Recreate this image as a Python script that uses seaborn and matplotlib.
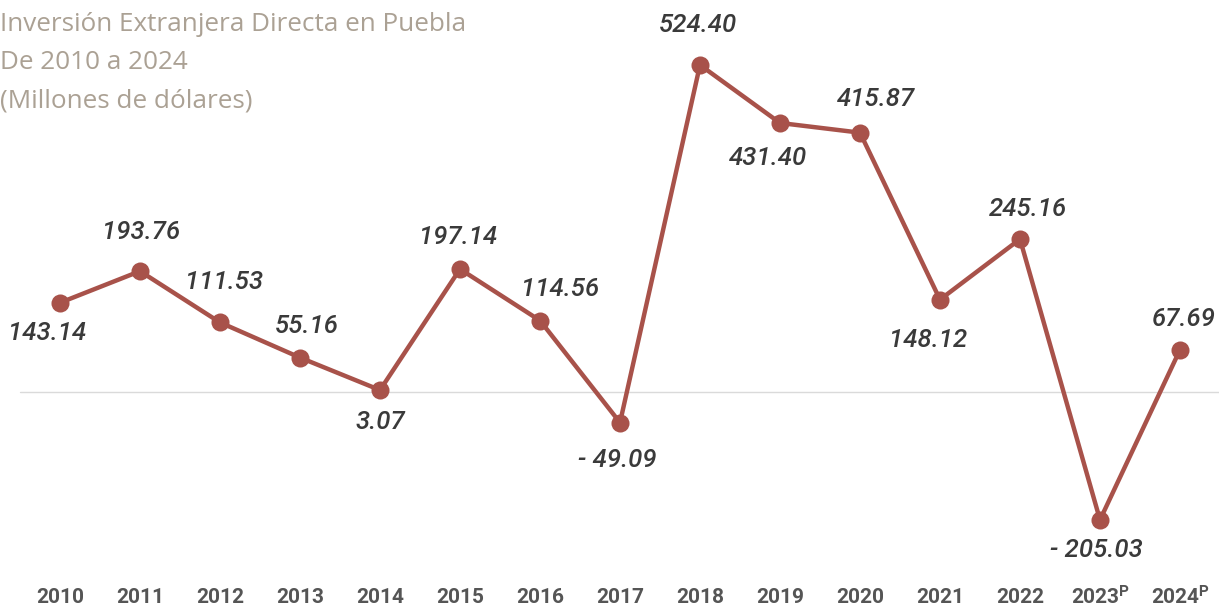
import numpy as np
import pandas as pd
import seaborn as sns
import matplotlib.pyplot as plt

years = [2010, 2011, 2012, 2013, 2014, 2015, 2016, 2017, 2018, 2019, 2020, 2021, 2022, 2023, 2024]
year_labels = ["2010", "2011", "2012", "2013", "2014", "2015", "2016", "2017",
               "2018", "2019", "2020", "2021", "2022", "2023ᴾ", "2024ᴾ"]
ied = [143.14, 193.76, 111.53, 55.16, 3.07, 197.14, 114.56, -49.09,
       524.40, 431.40, 415.87, 148.12, 245.16, -205.03, 67.69]
value_labels = ["143.14", "193.76", "111.53", "55.16", "3.07", "197.14", "114.56", "- 49.09",
                "524.40", "431.40", "415.87", "148.12", "245.16", "- 205.03", "67.69"]

# label offsets in pixels (dx, dy)
offsets = [(-13, -30), (1, 39), (4, 40), (7, 32), (0, -32), (-2, 32), (20, 32), (-3, -37),
           (-2, 40), (-12, -35), (16, 34), (-12, -40), (8, 30), (-4, -30), (4, 31)]

df = pd.DataFrame({"anio": years, "ied": ied})

sns.set_style("white")
plt.rcParams['font.family'] = ['Roboto', 'DejaVu Sans']

line_color = "#A8524A"
title_color = "#ABA194"

fig = plt.figure(figsize=(12.19, 6.08), dpi=100)
ax = fig.add_axes([0, 23 / 608, 1, 585 / 608])

ax.axhline(0, xmin=20 / 1219, xmax=1, color="#DADADA", lw=1, zorder=0)
sns.lineplot(data=df, x="anio", y="ied", ax=ax, color=line_color, lw=3.2,
             marker="o", markersize=13, markeredgewidth=0, zorder=3)

for x, y, lab, (dx, dy) in zip(years, ied, value_labels, offsets):
    ax.annotate(lab, (x, y), xytext=(dx, dy), textcoords="offset pixels",
                ha="center", va="center", fontsize=18.5, style="italic", fontweight=500,
                color="#3A3A3A", family=['Roboto', 'DejaVu Sans'])

ax.set_xlim(2009.25, 2024.4875)
ax.set_ylim(-309.5, 628.6)
ax.set_xticks(years)
ax.set_xticklabels(year_labels, fontsize=15, fontweight="bold", color="#555555",
                   family=['Roboto', 'DejaVu Sans'])
ax.tick_params(axis="x", length=0, pad=2)
ax.set_yticks([])
ax.set_xlabel("")
ax.set_ylabel("")
sns.despine(ax=ax, left=True, bottom=True)

title_lines = ["Inversión Extranjera Directa en Puebla", "De 2010 a 2024", "(Millones de dólares)"]
for i, t in enumerate(title_lines):
    fig.text(0, 1 - (31 + 38 * i) / 608, t, ha="left", va="baseline",
             fontsize=18.8, color=title_color, family=['Open Sans', 'DejaVu Sans'])

fig.savefig("out.png", dpi=100)
